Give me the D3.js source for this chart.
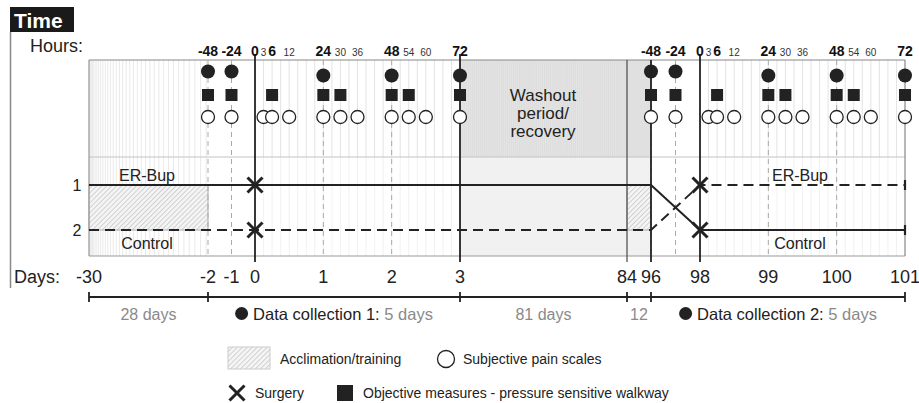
<!DOCTYPE html>
<html>
<head>
<meta charset="utf-8">
<script src="https://cdn.jsdelivr.net/npm/d3@7"></script>
<style>
html, body { margin: 0; padding: 0; background: #fff; }
svg { display: block; font-family: "Liberation Sans", Arial, sans-serif; }
</style>
</head>
<body>
<div id="chart"></div>
<script>
// Study timeline data
var dayTicks = [-30, -2, -1, 0, 1, 2, 3, 84, 96, 98, 99, 100, 101];
var hourTicks = [-48, -24, 0, 3, 6, 12, 24, 30, 36, 48, 54, 60, 72];
var boldHours = [-48, -24, 0, 6, 24, 48, 72];
var blockStarts = [0, 98];              // day at which hour 0 of each collection sits
var filledHours = [-48, -24, 24, 48, 72];
var squareHours = [-48, -24, 6, 24, 30, 48, 54, 72];
var openHours = [-48, -24, 3, 6, 12, 24, 30, 36, 48, 54, 60, 72];
var dashedHours = [-48, -24, 24, 48];
var boundaryDays = [0, 3, 84, 96, 98];
var surgeryDays = [0, 98];
var groupLabels = ['1', '2'];
var erBupPath = [{day: -30, grp: 1}, {day: 96, grp: 1}, {day: 98, grp: 2}, {day: 101, grp: 2}];
var controlPath = [{day: -30, grp: 2}, {day: 96, grp: 2}, {day: 98, grp: 1}, {day: 101, grp: 1}];
var acclimation = [[-30, -2], [84, 96]];
var washout = [3, 96];
var periodEdges = [-30, -2, 3, 84, 96, 101];
var periodLabels = ['28 days', 'Data collection 1:', '81 days', '12', 'Data collection 2:'];
var periodSub = ['', '5 days', '', '', '5 days'];

(function() {
    'use strict';

    var W = 919, H = 403;
    var dark = '#222', grid = '#dcdcdc', soft = '#8a8a8a';

    var svg = d3.select('#chart').append('svg')
        .attr('width', W).attr('height', H);

    // piecewise day scale (compressed acclimation and washout)
    var x = d3.scaleLinear()
        .domain([-30, -2, 0, 3, 84, 96, 98, 101])
        .range([89, 208, 255, 460, 627, 651, 700, 905]);
    function xh(start, h) { return x(start + h / 24); }

    var y = d3.scaleLinear().domain([1, 2]).range([185, 230]);
    var rowY = d3.scalePoint().domain(['filled', 'square', 'open']).range([73, 117]);

    var pTop = 60, pMid = 157, pBot = 256;
    var xL = x(-30), xR = x(101);

    // hatch pattern
    var defs = svg.append('defs');
    var pat = defs.append('pattern')
        .attr('id', 'hatch')
        .attr('patternUnits', 'userSpaceOnUse')
        .attr('width', 3.5).attr('height', 3.5)
        .attr('patternTransform', 'rotate(45)');
    pat.append('rect').attr('width', 3.5).attr('height', 3.5).attr('fill', '#f4f4f4');
    pat.append('line').attr('x1', 0).attr('y1', 0).attr('x2', 0).attr('y2', 3.5)
        .attr('stroke', '#b0b0b0').attr('stroke-width', 1);

    // Time header
    svg.append('rect').attr('x', 10).attr('y', 7).attr('width', 64).attr('height', 25).attr('fill', '#1a1a1a');
    svg.append('text').attr('x', 14).attr('y', 28)
        .attr('fill', '#fff').attr('font-size', 21).attr('font-weight', 'bold').text('Time');
    svg.append('line').attr('x1', 10.5).attr('x2', 10.5).attr('y1', 32).attr('y2', 288)
        .attr('stroke', '#888').attr('stroke-width', 1.5);

    svg.append('text').attr('x', 30).attr('y', 52).attr('font-size', 18).attr('fill', dark).text('Hours:');
    svg.append('text').attr('x', 14).attr('y', 283).attr('font-size', 18).attr('fill', dark).text('Days:');

    // washout background
    svg.append('rect').attr('x', x(washout[0])).attr('y', pTop)
        .attr('width', x(washout[1]) - x(washout[0])).attr('height', pMid - pTop).attr('fill', '#e4e4e4');
    svg.append('rect').attr('x', x(washout[0])).attr('y', pMid)
        .attr('width', x(washout[1]) - x(washout[0])).attr('height', pBot - pMid).attr('fill', '#f1f1f1');

    // washout texture lines
    var g = svg.append('g');
    g.selectAll('.wl').data(d3.range(washout[0] + 1, washout[1], 1)).join('line')
        .attr('x1', function(d) { return x(d); }).attr('x2', function(d) { return x(d); })
        .attr('y1', pTop).attr('y2', pMid)
        .attr('stroke', '#d6d6d6').attr('stroke-width', 0.6);

    // acclimation texture lines (denser at the start)
    var accl = d3.scalePow().exponent(1.8).domain([0, 36]).range([-30, -2.4]);
    g.selectAll('.al').data(d3.range(1, 37)).join('line')
        .attr('x1', function(d) { return x(accl(d)); }).attr('x2', function(d) { return x(accl(d)); })
        .attr('y1', pTop).attr('y2', pBot)
        .attr('stroke', '#e4e4e4').attr('stroke-width', 0.8);

    // 3-hour grid inside each collection
    blockStarts.forEach(function(s) {
        var hrs = d3.range(3, 72, 3);
        g.selectAll(null).data(hrs).join('line')
            .attr('x1', function(h) { return xh(s, h); }).attr('x2', function(h) { return xh(s, h); })
            .attr('y1', pTop).attr('y2', pMid)
            .attr('stroke', grid).attr('stroke-width', 0.8);
        g.selectAll(null).data(hrs).join('line')
            .attr('x1', function(h) { return xh(s, h); }).attr('x2', function(h) { return xh(s, h); })
            .attr('y1', pMid).attr('y2', pBot)
            .attr('stroke', '#eeeeee').attr('stroke-width', 0.8);
    });

    // acclimation hatched boxes
    svg.selectAll('.acc').data(acclimation).join('rect')
        .attr('x', function(d) { return x(d[0]); })
        .attr('width', function(d) { return x(d[1]) - x(d[0]); })
        .attr('y', y(1)).attr('height', y(2) - y(1))
        .attr('fill', 'url(#hatch)').attr('stroke', '#aaa').attr('stroke-width', 1);

    // panel frame
    svg.append('line').attr('x1', xL).attr('x2', xR).attr('y1', pTop).attr('y2', pTop).attr('stroke', '#888').attr('stroke-width', 1.2);
    svg.append('line').attr('x1', xL).attr('x2', xR).attr('y1', pMid).attr('y2', pMid).attr('stroke', '#c4c4c4').attr('stroke-width', 1.2);
    svg.append('line').attr('x1', xL).attr('x2', xR).attr('y1', pBot).attr('y2', pBot).attr('stroke', '#9a9a9a').attr('stroke-width', 1.2);
    svg.append('line').attr('x1', xL).attr('x2', xL).attr('y1', pTop).attr('y2', pBot).attr('stroke', '#9a9a9a').attr('stroke-width', 1.2);
    svg.append('line').attr('x1', xR).attr('x2', xR).attr('y1', pTop).attr('y2', pBot).attr('stroke', '#888').attr('stroke-width', 1.2);

    // dashed hour guides
    blockStarts.forEach(function(s) {
        svg.selectAll(null).data(dashedHours).join('line')
            .attr('x1', function(h) { return xh(s, h); }).attr('x2', function(h) { return xh(s, h); })
            .attr('y1', pTop).attr('y2', pBot)
            .attr('stroke', '#aaa').attr('stroke-width', 1).attr('stroke-dasharray', '5,4');
    });

    // solid period boundaries
    svg.selectAll('.bd').data(boundaryDays).join('line')
        .attr('x1', function(d) { return x(d); }).attr('x2', function(d) { return x(d); })
        .attr('y1', function(d) { return (d === 84 || d === 96) ? pTop : 54; })
        .attr('y2', 262)
        .attr('stroke', function(d) { return d === 84 ? '#555' : dark; })
        .attr('stroke-width', function(d) { return d === 84 ? 1.3 : 1.8; });

    // washout label
    svg.append('text').attr('x', x(washout[0]) + 83).attr('y', 101)
        .attr('text-anchor', 'middle').attr('font-size', 17).attr('fill', dark)
        .selectAll('tspan').data(['Washout', 'period/', 'recovery']).join('tspan')
        .attr('x', x(washout[0]) + 83)
        .attr('dy', function(d, i) { return i === 0 ? 0 : 18; })
        .text(function(d) { return d; });

    // group lines
    var line = d3.line().x(function(d) { return x(d.day); }).y(function(d) { return y(d.grp); });
    svg.append('path').datum(erBupPath).attr('d', line)
        .attr('fill', 'none').attr('stroke', dark).attr('stroke-width', 2);
    svg.append('path').datum(controlPath).attr('d', line)
        .attr('fill', 'none').attr('stroke', dark).attr('stroke-width', 2).attr('stroke-dasharray', '10,6');

    // end caps
    svg.selectAll('.cap').data([1, 2]).join('line')
        .attr('x1', xR).attr('x2', xR)
        .attr('y1', function(d) { return y(d) - 5; }).attr('y2', function(d) { return y(d) + 5; })
        .attr('stroke', dark).attr('stroke-width', 2.2);

    // group labels
    svg.selectAll('.gl').data(groupLabels).join('text')
        .attr('x', 77).attr('y', function(d) { return y(+d) + 6; })
        .attr('text-anchor', 'middle').attr('font-size', 16).attr('fill', dark)
        .text(function(d) { return d; });
    svg.append('text').attr('x', x(-30) + 58).attr('y', 181)
        .attr('text-anchor', 'middle').attr('font-size', 16).attr('fill', dark).text('ER-Bup');
    svg.append('text').attr('x', x(-30) + 58).attr('y', 249)
        .attr('text-anchor', 'middle').attr('font-size', 16).attr('fill', dark).text('Control');
    svg.append('text').attr('x', x(98) + 100).attr('y', 181)
        .attr('text-anchor', 'middle').attr('font-size', 16).attr('fill', dark).text('ER-Bup');
    svg.append('text').attr('x', x(98) + 100).attr('y', 249)
        .attr('text-anchor', 'middle').attr('font-size', 16).attr('fill', dark).text('Control');

    // surgery marks
    var xPath = 'M-7.5,-7.5L7.5,7.5M-7.5,7.5L7.5,-7.5';
    surgeryDays.forEach(function(d) {
        svg.selectAll(null).data([1, 2]).join('path')
            .attr('transform', function(gp) { return 'translate(' + x(d) + ',' + y(gp) + ')'; })
            .attr('d', xPath).attr('stroke', dark).attr('stroke-width', 3).attr('fill', 'none');
    });

    // measurement markers
    blockStarts.forEach(function(s) {
        svg.selectAll(null).data(openHours).join('circle')
            .attr('cx', function(h) { return xh(s, h); }).attr('cy', rowY('open'))
            .attr('r', 6.5).attr('fill', '#fff').attr('stroke', dark).attr('stroke-width', 1.3);
        svg.selectAll(null).data(squareHours).join('rect')
            .attr('x', function(h) { return xh(s, h) - 6; }).attr('y', rowY('square') - 6)
            .attr('width', 12).attr('height', 12).attr('fill', dark);
        svg.selectAll(null).data(filledHours).join('circle')
            .attr('cx', function(h) { return xh(s, h); })
            .attr('cy', function(h) { return rowY('filled') + (h > 0 ? 2.5 : -1.5); })
            .attr('r', 7).attr('fill', dark);
    });

    // hour labels
    blockStarts.forEach(function(s) {
        svg.selectAll(null).data(hourTicks).join('text')
            .attr('x', function(h) { return xh(s, h); }).attr('y', 56)
            .attr('text-anchor', 'middle')
            .attr('font-size', function(h) { return boldHours.indexOf(h) >= 0 ? 14 : 10; })
            .attr('font-weight', function(h) { return boldHours.indexOf(h) >= 0 ? 'bold' : 'normal'; })
            .attr('fill', function(h) { return boldHours.indexOf(h) >= 0 ? '#111' : '#333'; })
            .text(function(h) { return h; });
    });

    // day labels
    svg.selectAll('.dl').data(dayTicks).join('text')
        .attr('x', function(d) { return x(d); }).attr('y', 283)
        .attr('text-anchor', 'middle').attr('font-size', 18).attr('fill', dark)
        .text(function(d) { return d; });

    // period bracket
    svg.append('line').attr('x1', xL).attr('x2', xR).attr('y1', 297).attr('y2', 297)
        .attr('stroke', dark).attr('stroke-width', 1.8);
    svg.selectAll('.pt').data(periodEdges).join('line')
        .attr('x1', function(d) { return x(d); }).attr('x2', function(d) { return x(d); })
        .attr('y1', 292).attr('y2', 302)
        .attr('stroke', dark).attr('stroke-width', 1.8);

    periodLabels.forEach(function(lab, i) {
        var cx = (x(periodEdges[i]) + x(periodEdges[i + 1])) / 2;
        var gg = svg.append('g');
        var t = gg.append('text').attr('y', 319.5).attr('font-size', 16.5);
        if (periodSub[i]) {
            t.append('tspan').attr('fill', dark).text(lab + ' ');
            t.append('tspan').attr('fill', soft).text(periodSub[i]);
            var w = t.node().getComputedTextLength();
            var total = w + 18;
            var x0 = cx - total / 2;
            gg.append('circle').attr('cx', x0 + 6.5).attr('cy', 313.5).attr('r', 6.5).attr('fill', dark);
            t.attr('x', x0 + 18);
        } else {
            t.attr('x', cx).attr('text-anchor', 'middle').attr('fill', soft).attr('font-size', 16).text(lab);
        }
    });

    // legend
    var lg = svg.append('g').attr('font-size', 14).attr('fill', dark);
    lg.append('rect').attr('x', 228).attr('y', 347).attr('width', 42).attr('height', 22)
        .attr('fill', 'url(#hatch)').attr('stroke', '#ccc');
    lg.append('text').attr('x', 280).attr('y', 364).text('Acclimation/training');
    lg.append('circle').attr('cx', 446).attr('cy', 359).attr('r', 8.5)
        .attr('fill', '#fff').attr('stroke', dark).attr('stroke-width', 1.3);
    lg.append('text').attr('x', 463).attr('y', 364).text('Subjective pain scales');
    lg.append('path').attr('transform', 'translate(237,393)').attr('d', xPath)
        .attr('stroke', dark).attr('stroke-width', 3).attr('fill', 'none');
    lg.append('text').attr('x', 255).attr('y', 398).text('Surgery');
    lg.append('rect').attr('x', 337).attr('y', 385).attr('width', 16).attr('height', 16).attr('fill', dark);
    lg.append('text').attr('x', 363).attr('y', 398).text('Objective measures - pressure sensitive walkway');
})();
</script>
</body>
</html>
